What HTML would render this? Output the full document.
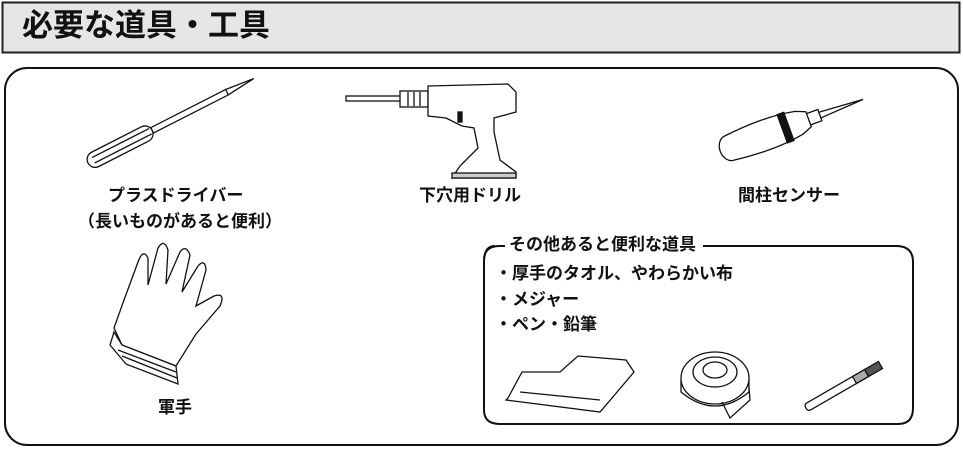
<!DOCTYPE html>
<html><head><meta charset="utf-8"><style>
html,body{margin:0;padding:0;background:#fff;}
body{width:963px;height:450px;overflow:hidden;position:relative;font-family:"Liberation Sans","Noto Sans CJK JP",sans-serif;color:#111;}
.t{position:absolute;white-space:nowrap;font-size:17px;line-height:1;font-weight:bold;}
</style></head><body>
<svg width="963" height="450" style="position:absolute;left:0;top:0" fill="none" stroke="#111" stroke-width="1.3">
<rect x="2.5" y="2.5" width="957" height="50" fill="#e6e6e6" stroke="#222" stroke-width="2"/>
<rect x="5" y="68" width="953" height="377" rx="22" stroke-width="2"/>
<path d="M495 246 Q484 246 484 262 L484 410 Q484 424 500 424 L898 424 Q913 424 913 408 L913 262 Q913 246 896 246 L703 246" stroke-width="2"/>
<path d="M484 260 Q484 246 500 246 L505 246" stroke-width="2"/>
<!-- screwdriver -->
<g transform="translate(88,163) rotate(-27)">
<rect x="0" y="-8" width="72" height="16" rx="8" fill="#fff"/>
<line x1="6" y1="-3" x2="70" y2="-3"/><line x1="6" y1="3" x2="70" y2="3"/>
<rect x="72" y="-3" width="84" height="6" fill="#fff"/>
<path d="M156 -3 L186 0 L156 3"/>
</g>
<!-- drill -->
<rect x="346" y="96" width="56" height="5" fill="#fff"/>
<rect x="400" y="91" width="28" height="16" fill="#fff"/>
<line x1="408" y1="92" x2="408" y2="106"/><line x1="414" y1="92" x2="414" y2="106"/><line x1="420" y1="92" x2="420" y2="106"/>
<path d="M428 86 L508 84 L516 92 L516 112 L494 118 L494 132 L500 160 L516 172 L516 178 L452 178 L460 166 L478 148 L474 128 L462 126 L446 118 L428 116 Z" fill="#fff"/>
<rect x="452" y="173" width="64" height="5" fill="#ccc"/>
<rect x="458" y="112" width="4" height="10" fill="#111"/>
<!-- stud sensor -->
<g transform="translate(724,150) rotate(-20)">
<ellipse cx="6" cy="0" rx="10" ry="13" fill="#fff"/>
<path d="M6 -13 Q50 -18 80 -12 L90 -8 L90 8 L80 12 Q50 18 6 13" fill="#fff"/>
<rect x="62" y="-15" width="7" height="30" fill="#111"/>
<path d="M90 -6 L102 -6 L102 6 L90 6"/>
<path d="M102 -3 L148 0 L102 3"/>
</g>
<!-- glove -->
<path d="M122 345 L114 328 L124 300 L138 262 Q143 248 148 258 L148 285 L158 248 Q164 238 168 250 L166 284 L180 252 Q186 244 190 255 L182 292 L198 266 Q205 258 206 270 L196 306 L214 296 Q226 292 220 306 L196 334 L176 366 Z" fill="#fff"/>
<path d="M114 332 L122 345 L176 366 L178 384 L126 364 L110 345 Z" fill="#fff"/>
<line x1="118" y1="350" x2="176" y2="372"/><line x1="122" y1="356" x2="177" y2="378"/>
<!-- towel -->
<path d="M508 398 L522 372 L560 372 L578 356 L626 360 L634 372 L612 398 L600 412 L506 400 Z" fill="#fff"/>
<line x1="520" y1="392" x2="600" y2="400"/>
<!-- tape -->
<ellipse cx="715" cy="378" rx="34" ry="26" fill="#fff"/>
<ellipse cx="715" cy="372" rx="22" ry="15"/>
<ellipse cx="715" cy="370" rx="12" ry="8"/>
<path d="M681 380 L681 392 Q715 420 749 392 L749 380" />
<path d="M722 402 L730 418 L750 400 L749 388"/>
<!-- pen -->
<g transform="translate(806,408) rotate(-30)">
<rect x="0" y="-4" width="70" height="8" rx="3" fill="#fff"/>
<rect x="56" y="-4" width="14" height="8" fill="#aaa"/>
<rect x="70" y="-4" width="16" height="8" fill="#555"/>
</g>
</svg>
<div class="t" style="left:22px;top:10px;font-size:31px;">必要な道具・工具</div>
<div class="t" style="left:108px;top:187px;">プラスドライバー</div>
<div class="t" style="left:78px;top:213px;">（長いものがあると便利）</div>
<div class="t" style="left:419px;top:187px;">下穴用ドリル</div>
<div class="t" style="left:738px;top:187px;">間柱センサー</div>
<div class="t" style="left:158px;top:399px;">軍手</div>
<div class="t" style="left:509px;top:236px;">その他あると便利な道具</div>
<div class="t" style="left:495px;top:265px;">・厚手のタオル、やわらかい布</div>
<div class="t" style="left:495px;top:291px;">・メジャー</div>
<div class="t" style="left:495px;top:316px;">・ペン・鉛筆</div>
</body></html>
